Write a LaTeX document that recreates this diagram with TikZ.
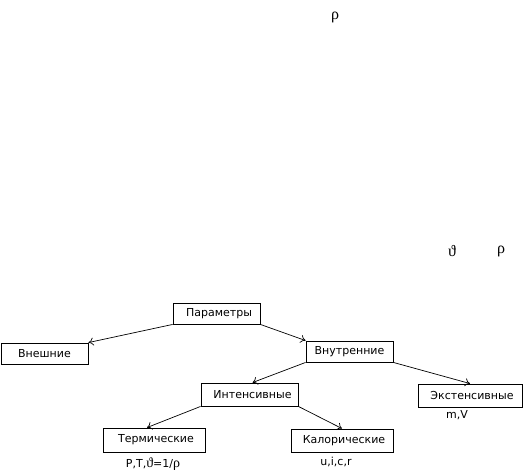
\documentclass[tikz,border=0pt]{standalone}
\usepackage{fontspec}
\setmainfont{DejaVu Sans}
\newfontfamily\grk{Liberation Serif}
\usetikzlibrary{arrows.meta,calc}
\begin{document}
\begin{tikzpicture}[x=1pt,y=-1pt,
  box/.style={draw,line width=0.9pt,inner sep=0pt,font=\fontsize{11}{13}\selectfont},
  lbl/.style={inner sep=0pt,font=\fontsize{11}{13}\selectfont},
  gl/.style={inner sep=0pt,font=\grk\fontsize{16}{18}\selectfont},
  conn/.style={line width=0.7pt,-{To[length=5pt,width=8pt]}}]
\useasboundingbox (0,0) rectangle (527,476);
\node[box,minimum width=87pt,minimum height=21pt] (par) at (216.5,313.5) {\hspace{5pt}Параметры};
\node[box,minimum width=87pt,minimum height=21pt] (vnesh) at (44.5,353.5) {Внешние\hspace{18pt}};
\node[box,minimum width=87pt,minimum height=21pt] (vnutr) at (349.5,351.5) {Внутренние};
\node[box,minimum width=97pt,minimum height=23pt] (inten) at (249.5,394.5) {\hspace{6pt}Интенсивные};
\node[box,minimum width=102pt,minimum height=24pt] (term) at (154,440) {\hspace{4pt}Термические};
\node[box,minimum width=102pt,minimum height=23pt] (kalor) at (342,440.5) {\hspace{4pt}Калорические};
\node[box,minimum width=104pt,minimum height=23pt] (ekst) at (470,395.5) {\hspace{4pt}Экстенсивные};
\node[lbl] (lt) at (153,464) {P,T,{\grk\fontsize{14}{14}\selectfont ϑ}=1/{\grk\fontsize{14}{14}\selectfont ρ}};
\node[lbl] (lk) at (336,462) {u,i,c,r};
\node[lbl] (le) at (457,415) {m,V};
\node[gl] (r1) at (335,17) {ρ};
\node[gl] (t2) at (452,251) {ϑ};
\node[gl] (r2) at (501,251) {ρ};
\draw[conn] (par.south west) -- (vnesh.north east);
\draw[conn] (par.south east) -- (vnutr.north west);
\draw[conn] (vnutr.south west) -- ($(inten.north)+(3,0)$);
\draw[conn] (vnutr.south east) -- (ekst.north);
\draw[conn] (inten.south west) -- ($(term.north)+(-7,0)$);
\draw[conn] (inten.south east) -- (kalor.north);
\end{tikzpicture}
\end{document}
